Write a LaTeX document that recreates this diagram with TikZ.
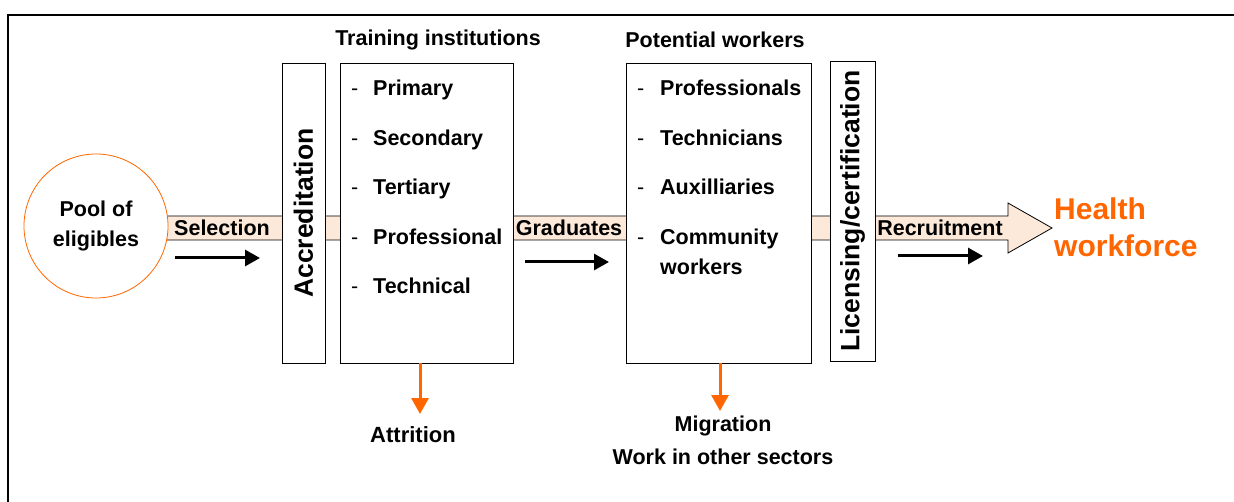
\documentclass[tikz,border=0pt]{standalone}
\usepackage{fontspec}
\setmainfont{Liberation Sans}
\usetikzlibrary{arrows.meta,positioning}
\definecolor{peach}{HTML}{FDE9DA}
\definecolor{hworange}{HTML}{FF6600}
\tikzset{
  lbl/.style={font=\fontsize{21.5}{30}\selectfont\bfseries, inner sep=0pt},
  vbox/.style={draw, thick, fill=white, minimum width=#1, minimum height=300, inner sep=0pt},
  vtxt/.style={rotate=90, font=\fontsize{26.5}{30}\selectfont\bfseries},
  item/.style={lbl, anchor=base west},
  dashmark/.style={lbl, anchor=base west, font=\fontsize{21.5}{30}\selectfont},
  blk/.style={-{Triangle[length=15pt,width=16pt]}, line width=3pt},
  org/.style={-{Triangle[length=16pt,width=17pt]}, line width=3pt, hworange}
}
\begin{document}
\begin{tikzpicture}[x=1pt,y=-1pt]
\useasboundingbox (0,0) rectangle (1234,502);
\draw [line width=2.5pt] (8,530) -- (8,15) -- (1260,15);
% main flow band
\draw [thick, fill=peach] (96,216) -- (1008,216) -- (1008,203) -- (1052,228) -- (1008,253) -- (1008,240) -- (96,240) -- cycle;
\node (pool) [circle, draw=hworange, thick, fill=white, minimum size=144, lbl, align=center] at (96,226) {Pool of\\eligibles};
\node (accr) [vbox=43] at (303.5,213) {};
\node [vtxt] at (accr.center) {Accreditation};
\node (train) [vbox=173] at (426.5,213) {};
\node (pot) [vbox=185] at (718.5,213) {};
\node (lic) [vbox=45] at (852.5,211) {};
\node [vtxt] at (lic.center) {Licensing/certification};
\node [lbl] at (438,40) {Training institutions};
\node [lbl] at (715,40) {Potential workers};
\foreach \t [count=\i] in {Primary,Secondary,Tertiary,Professional,Technical} {
  \node [dashmark] at (351,{96+49.5*(\i-1)}) {-};
  \node [item] at (373,{96+49.5*(\i-1)}) {\t};
}
\foreach \t [count=\i] in {Professionals,Technicians,Auxilliaries,Community} {
  \node [dashmark] at (637,{96+49.5*(\i-1)}) {-};
  \node [item] at (660,{96+49.5*(\i-1)}) {\t};
}
\node [item] at (660,275) {workers};
% flow labels
\node (sel) [lbl] at (222,228) {Selection};
\node (grad) [lbl] at (569,228) {Graduates};
\node (rec) [lbl] at (940,228) {Recruitment};
\node (hw) [lbl, font=\fontsize{30}{37}\selectfont\bfseries, text=hworange, align=left, anchor=west] at (1054,227) {Health\\workforce};
\coordinate (s1) at (175,258); \coordinate (s2) at (260,258);
\coordinate (g1) at (525,262); \coordinate (g2) at (609,262);
\coordinate (r1) at (898,256); \coordinate (r2) at (983,256);
\draw [blk] (s1) -- (s2);
\draw [blk] (g1) -- (g2);
\draw [blk] (r1) -- (r2);
% losses
\node (attr) [lbl, font=\fontsize{22}{30}\selectfont\bfseries] at (413,435) {Attrition};
\node (migr) [lbl, align=center, font=\fontsize{21.5}{33}\selectfont\bfseries] at (723,440) {Migration\\Work in other sectors};
\draw [org] (train.south -| 420,0) -- (420,414);
\draw [org] (pot.south -| 720,0) -- (720,411);
\end{tikzpicture}
\end{document}
